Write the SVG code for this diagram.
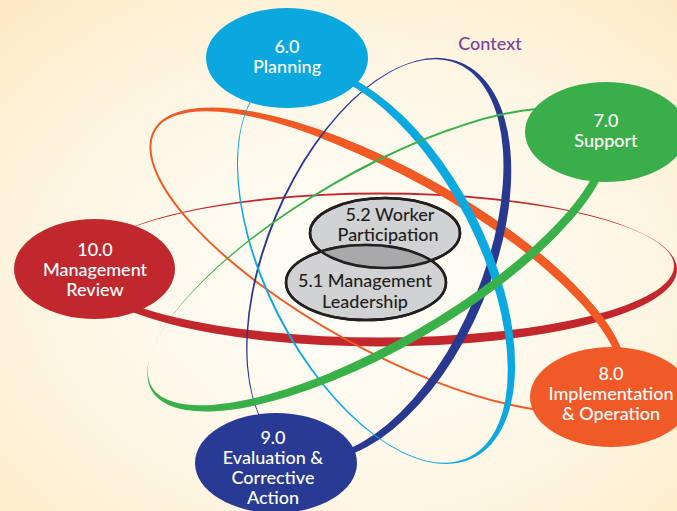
<svg xmlns="http://www.w3.org/2000/svg" width="677" height="511" viewBox="0 0 677 511">
<defs>
<radialGradient id="bg" cx="52%" cy="55%" r="75%">
<stop offset="0" stop-color="#fffefa"/>
<stop offset="0.55" stop-color="#fef7e6"/>
<stop offset="1" stop-color="#fdeac4"/>
</radialGradient>
<clipPath id="c51"><ellipse cx="366" cy="282.5" rx="80" ry="37.5"/></clipPath>
<mask id="mOrange" maskUnits="userSpaceOnUse" x="-300" y="-120" width="600" height="240">
<ellipse rx="268" ry="91" fill="#fff"/>
<ellipse rx="268" ry="94" fill="#000" transform="translate(0,15.2) rotate(2.69)"/>
<ellipse cx="-1.5" cy="3.5" rx="264.5" ry="85.5" fill="#000"/>
</mask>
</defs>
<style>
.ring{fill-rule:evenodd;stroke:none}
.lbl{font-family:Lato,"Open Sans","DejaVu Sans",sans-serif;font-size:18px;font-weight:500;text-anchor:middle;fill:#ffffff}
.dark{fill:#231f20}
.core{fill:#d1d2d3;stroke:#231f20;stroke-width:2.5}
</style>
<rect width="677" height="511" fill="url(#bg)"/>
<g id="connectors">
<path class="ring" fill="#c1272d" transform="translate(380,269.5)" d="M-297 0A297 77 0 1 0 297 0A297 77 0 1 0 -297 0ZM-294 -3.5A294 71.5 0 1 0 294 -3.5A294 71.5 0 1 0 -294 -3.5Z"/>
<g transform="translate(388,260) rotate(29)">
<ellipse rx="268" ry="91" fill="#f15a24" mask="url(#mOrange)"/>
<ellipse rx="267" ry="90" fill="none" stroke="#f15a24" stroke-width="2"/>
</g>
<path class="ring" fill="#2a3990" transform="translate(378.7,259) rotate(-67.2)" d="M-213 0A213 112.5 0 1 0 213 0A213 112.5 0 1 0 -213 0ZM-210.5 -3.5A210.5 107 0 1 0 210.5 -3.5A210.5 107 0 1 0 -210.5 -3.5Z"/>
<path class="ring" fill="#0ba9e0" transform="translate(376,265) rotate(63)" d="M-216 0A216 110.7 0 1 0 216 0A216 110.7 0 1 0 -216 0ZM-213.5 3.5A213.5 105.2 0 1 0 213.5 3.5A213.5 105.2 0 1 0 -213.5 3.5Z"/>
<path class="ring" fill="#39b04a" transform="translate(378.5,259.5) rotate(-30)" d="M-262 0A262 89 0 1 0 262 0A262 89 0 1 0 -262 0ZM-260 -3.5A258 83.5 0 1 0 256 -3.5A258 83.5 0 1 0 -260 -3.5Z"/>
</g>
<g id="n52">
<ellipse class="core" cx="385" cy="233" rx="75" ry="35"/>
</g>
<g id="n51">
<ellipse class="core" cx="366" cy="282.5" rx="80" ry="37.5"/>
<ellipse cx="385" cy="233" rx="75" ry="35" fill="#a8a9ab" clip-path="url(#c51)"/>
<ellipse cx="385" cy="233" rx="75" ry="35" fill="none" stroke="#231f20" stroke-width="2.5"/>
<ellipse cx="366" cy="282.5" rx="80" ry="37.5" fill="none" stroke="#231f20" stroke-width="2.5"/>
<text class="lbl dark" x="390" y="221">5.2 Worker</text>
<text class="lbl dark" x="388" y="241">Participation</text>
<text class="lbl dark" x="365" y="287">5.1 Management</text>
<text class="lbl dark" x="365" y="308">Leadership</text>
</g>
<g id="n6">
<ellipse cx="287" cy="58" rx="81" ry="50" fill="#0ba8df"/>
<text class="lbl" x="287" y="53">6.0</text>
<text class="lbl" x="287" y="73">Planning</text>
</g>
<g id="n7">
<ellipse cx="606" cy="132" rx="81" ry="50" fill="#39ae4a"/>
<text class="lbl" x="606" y="127">7.0</text>
<text class="lbl" x="606" y="147">Support</text>
</g>
<g id="n8">
<ellipse cx="611" cy="397" rx="81" ry="50" fill="#f05a28"/>
<text class="lbl" x="611" y="380">8.0</text>
<text class="lbl" x="611" y="400">Implementation</text>
<text class="lbl" x="611" y="420">&amp; Operation</text>
</g>
<g id="n9">
<ellipse cx="276" cy="463" rx="81" ry="50" fill="#283a93"/>
<text class="lbl" x="273" y="444">9.0</text>
<text class="lbl" x="273" y="464">Evaluation &amp;</text>
<text class="lbl" x="273" y="484">Corrective</text>
<text class="lbl" x="273" y="504">Action</text>
</g>
<g id="n10">
<ellipse cx="94.5" cy="269" rx="80.5" ry="50" fill="#c0282e"/>
<text class="lbl" x="95" y="256">10.0</text>
<text class="lbl" x="95" y="276">Management</text>
<text class="lbl" x="95" y="296">Review</text>
</g>
<g id="context">
<text class="lbl" x="490" y="50" style="fill:#7f3f98">Context</text>
</g>
</svg>
